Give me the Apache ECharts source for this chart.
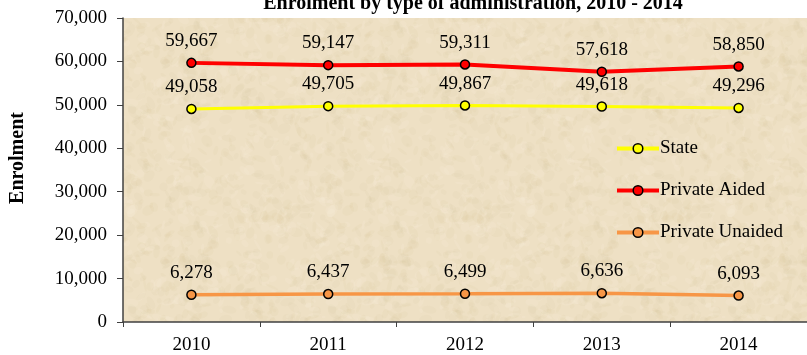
<!DOCTYPE html>
<html>
<head>
<meta charset="utf-8">
<script src="https://cdn.jsdelivr.net/npm/echarts@6/dist/echarts.min.js"></script>
<style>
  html, body { margin: 0; padding: 0; background: #ffffff; }
  #chart { width: 807px; height: 355px; }
</style>
</head>
<body>
<div id="chart"></div>
<script>
// Enrolment by type of administration, 2010 - 2014
const years = ['2010', '2011', '2012', '2013', '2014'];
const stateValues = [49058, 49705, 49867, 49618, 49296];
const privateAidedValues = [59667, 59147, 59311, 57618, 58850];
const privateUnaidedValues = [6278, 6437, 6499, 6636, 6093];
const seriesNames = ['State', 'Private Aided', 'Private Unaided'];
const seriesColors = ['#ffff00', '#ff0000', '#f79646'];
const lineWidths = [3, 4, 3.5];

// Parchment-like texture for the plot area, built from a seeded generator.
// Spots are drawn with wrapped copies so the tile repeats without seams.
function parchmentTexture() {
  const N = 200;
  const c = document.createElement('canvas');
  c.width = N; c.height = N;
  const ctx = c.getContext('2d');
  ctx.fillStyle = '#eee0c4';
  ctx.fillRect(0, 0, N, N);
  let s = 987654;
  const rnd = () => { s = (s * 1103515245 + 12345) & 0x7fffffff; return s / 0x7fffffff; };
  const tones = ['rgba(215,192,152,0.10)', 'rgba(252,246,230,0.12)', 'rgba(205,178,135,0.07)'];
  for (let i = 0; i < 700; i++) {
    const x = rnd() * N, y = rnd() * N;
    const rx = 1.5 + rnd() * 6, ry = 1 + rnd() * 4, a = rnd() * Math.PI;
    ctx.fillStyle = tones[i % tones.length];
    for (const dx of [-N, 0, N]) {
      for (const dy of [-N, 0, N]) {
        ctx.beginPath();
        ctx.ellipse(x + dx, y + dy, rx, ry, a, 0, Math.PI * 2);
        ctx.fill();
      }
    }
  }
  return c;
}

const serifFont = '"Liberation Serif", "Times New Roman", serif';
const chart = echarts.init(document.getElementById('chart'), null, { renderer: 'canvas' });

function lineSeries(i, data) {
  return {
    name: seriesNames[i],
    type: 'line',
    data: data,
    symbol: 'circle',
    symbolSize: 9,
    lineStyle: { color: seriesColors[i], width: lineWidths[i] },
    itemStyle: { color: seriesColors[i], borderColor: '#000000', borderWidth: 1.5 },
    label: {
      show: true,
      position: 'top',
      distance: 7,
      color: '#000000',
      fontFamily: serifFont,
      fontSize: 19,
      formatter: p => p.value.toLocaleString('en-US')
    },
    emphasis: { disabled: true },
    animation: false
  };
}

chart.setOption({
  backgroundColor: '#ffffff',
  title: {
    text: 'Enrolment by type of administration, 2010 - 2014',
    left: 468,
    textAlign: 'center',
    top: -11,
    textStyle: { fontFamily: serifFont, fontSize: 20, fontWeight: 'bold', color: '#000000' }
  },
  grid: {
    left: 121, top: 18, width: 693, height: 306,
    show: true,
    borderWidth: 0,
    backgroundColor: { image: parchmentTexture(), repeat: 'repeat' }
  },
  legend: {
    orient: 'vertical',
    left: 610,
    top: 134,
    itemGap: 23,
    itemWidth: 42,
    itemHeight: 12,
    data: seriesNames.map((n, i) => ({
      name: n,
      lineStyle: { width: 4, color: seriesColors[i] },
      itemStyle: { color: seriesColors[i], borderColor: '#000000', borderWidth: 1.5 }
    })),
    textStyle: { fontFamily: serifFont, fontSize: 19, color: '#000000', padding: [0, 0, 0, -4] }
  },
  xAxis: {
    type: 'category',
    data: years,
    boundaryGap: true,
    axisLine: { lineStyle: { color: '#404040', width: 1.5 } },
    axisTick: { show: true, length: 5, inside: false, lineStyle: { color: '#404040' } },
    axisLabel: { fontFamily: serifFont, fontSize: 19, color: '#000000', margin: 14 },
    splitLine: { show: false }
  },
  yAxis: {
    type: 'value',
    min: 0, max: 70000, interval: 10000,
    name: 'Enrolment',
    nameLocation: 'middle',
    nameGap: 95,
    nameTextStyle: { fontFamily: serifFont, fontSize: 20, fontWeight: 'bold', color: '#000000', padding: [0, 0, 0, 24] },
    axisLine: { show: true, lineStyle: { color: '#404040', width: 1.5 } },
    axisTick: { show: true, length: 6, lineStyle: { color: '#404040' } },
    axisLabel: {
      fontFamily: serifFont, fontSize: 19, color: '#000000', margin: 16,
      formatter: v => v.toLocaleString('en-US')
    },
    splitLine: { show: false }
  },
  series: [
    lineSeries(0, stateValues),
    lineSeries(1, privateAidedValues),
    lineSeries(2, privateUnaidedValues)
  ]
});
</script>
</body>
</html>
